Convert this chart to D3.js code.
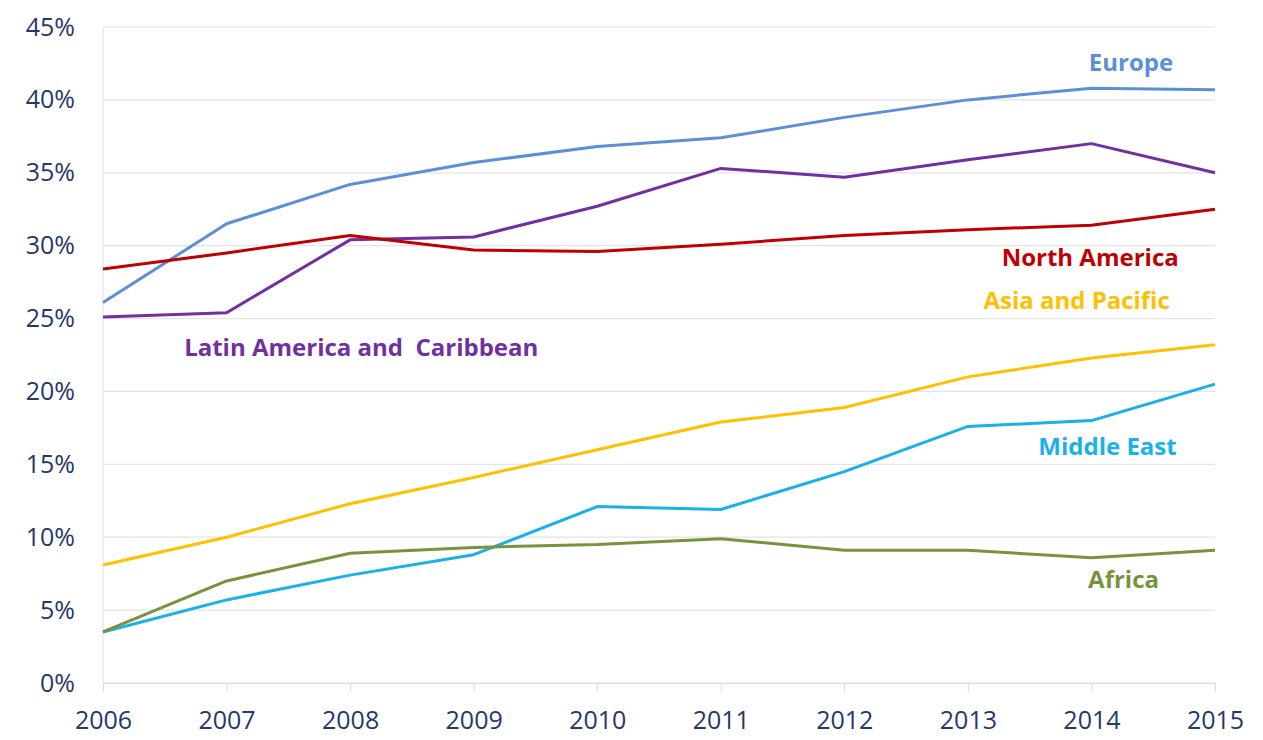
<!DOCTYPE html>
<html><head><meta charset="utf-8">
<script src="https://cdn.jsdelivr.net/npm/d3@7"></script>
<style>body{margin:0;background:#fff;} svg{display:block;}</style>
</head><body><svg id="c" width="1263" height="740"></svg>
<script>
const years = [2006,2007,2008,2009,2010,2011,2012,2013,2014,2015];
const yTicks = [0,5,10,15,20,25,30,35,40,45];
const europe = [26.1,31.5,34.2,35.7,36.8,37.4,38.8,40.0,40.8,40.7];
const latinAmerica = [25.1,25.4,30.4,30.6,32.7,35.3,34.7,35.9,37.0,35.0];
const northAmerica = [28.4,29.5,30.7,29.7,29.6,30.1,30.7,31.1,31.4,32.5];
const asiaPacific = [8.1,10.0,12.3,14.1,16.0,17.9,18.9,21.0,22.3,23.2];
const middleEast = [3.5,5.7,7.4,8.8,12.1,11.9,14.5,17.6,18.0,20.5];
const africa = [3.5,7.0,8.9,9.3,9.5,9.9,9.1,9.1,8.6,9.1];
const seriesNames = ["Europe","Latin America and  Caribbean","North America","Asia and Pacific","Middle East","Africa"];
const seriesValues = [europe,latinAmerica,northAmerica,asiaPacific,middleEast,africa];
const colors = ["#5b8fd6","#7030a0","#c00000","#ffc000","#1ab0e8","#77933c"];
const labelColors = ["#5b8fd6","#7030a0","#c00000","#ffc000","#1ab0e8","#77933c"];
// label anchor positions in data space [year, value]
const labelPos = [[2014.32,42.39],[2008.09,22.84],[2013.99,29.08],[2013.88,26.13],[2014.13,16.05],[2014.26,6.93]];

const svg = d3.select("#c");
const x = d3.scaleLinear().domain([2006,2015]).range([103,1215]);
const y = d3.scaleLinear().domain([0,45]).range([683,27]);

// gridlines
svg.append("g").selectAll("line").data(yTicks).join("line")
  .attr("x1",x(2006)).attr("x2",x(2015))
  .attr("y1",d=>y(d)).attr("y2",d=>y(d))
  .attr("stroke","#e4e4e4").attr("stroke-width",1.2);
// vertical axis line
svg.append("line").attr("x1",x(2006)).attr("x2",x(2006)).attr("y1",y(45)).attr("y2",y(0))
  .attr("stroke","#e4e4e4").attr("stroke-width",1.2);

// y axis
const yAxis = d3.axisLeft(y).tickValues(yTicks).tickFormat(d=>d+"%").tickSize(0).tickPadding(28);
const gy = svg.append("g").attr("transform",`translate(${x(2006)},0)`).call(yAxis);
gy.select(".domain").remove();
gy.selectAll("text").attr("font-family","'Open Sans', sans-serif").attr("font-size",25).attr("fill","#26386a");

// x axis
const xAxis = d3.axisBottom(x).tickValues(years).tickFormat(d3.format("d")).tickSize(9).tickPadding(19);
const gx = svg.append("g").attr("transform",`translate(0,${y(0)})`).call(xAxis);
gx.select(".domain").attr("stroke","#dcdcdc");
gx.selectAll(".tick line").attr("stroke","#dcdcdc");
gx.selectAll("text").attr("font-family","'Open Sans', sans-serif").attr("font-size",25).attr("fill","#26386a");

// lines
const line = d3.line().x((d,i)=>x(years[i])).y(d=>y(d));
svg.append("g").selectAll("path").data(seriesValues).join("path")
  .attr("d",d=>line(d)).attr("fill","none")
  .attr("stroke",(d,i)=>colors[i]).attr("stroke-width",3).attr("stroke-linejoin","round");

// labels
svg.append("g").selectAll("text").data(seriesNames).join("text")
  .attr("x",(d,i)=>x(labelPos[i][0])).attr("y",(d,i)=>y(labelPos[i][1]))
  .attr("text-anchor","middle").attr("dominant-baseline","middle")
  .attr("font-family","'Open Sans', sans-serif").attr("font-weight","bold").attr("font-size",24)
  .attr("fill",(d,i)=>labelColors[i]).style("white-space","pre")
  .text(d=>d);
</script></body></html>
